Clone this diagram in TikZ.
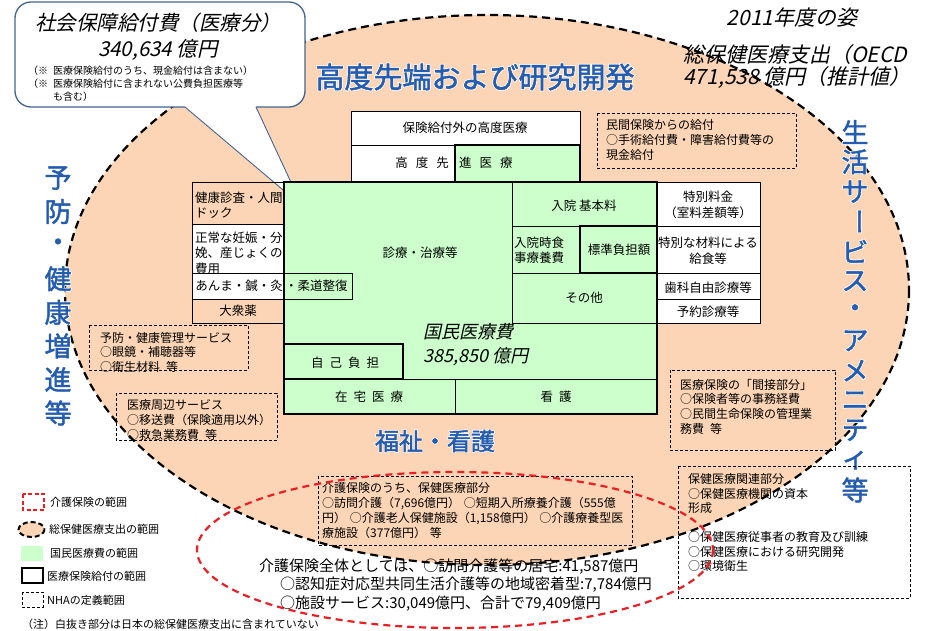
\documentclass[tikz,border=0pt]{standalone}
\usepackage{fontspec}
\setmainfont{Noto Sans CJK JP}
\newfontfamily\jpit[FakeSlant=0.22]{Noto Sans CJK JP}
\newfontfamily\jpbf[FakeBold=1.6]{Noto Sans CJK JP}
\newfontfamily\jpglow[FakeBold=7]{Noto Sans CJK JP}
\definecolor{peach}{RGB}{251,213,181}
\definecolor{lgreen}{RGB}{204,255,204}
\definecolor{ttlblue}{RGB}{36,92,176}
\definecolor{cborder}{RGB}{68,100,145}
\definecolor{kred}{RGB}{235,30,35}
\tikzset{
 thinbox/.style={draw=black,line width=0.9pt},
 thickbox/.style={draw=black,line width=2.6pt},
 nha/.style={draw=black,line width=0.8pt,dash pattern=on 3pt off 2pt},
 lbl/.style={inner sep=0pt,font=\fontsize{12.5}{15.5}\selectfont},
 dlbl/.style={inner sep=0pt,anchor=north west,align=left,font=\fontsize{12}{14.7}\selectfont},
 leg/.style={inner sep=0pt,anchor=west,font=\fontsize{11}{13}\selectfont},
 ttl/.style={inner sep=0pt,text=ttlblue,font=\jpbf\fontsize{29}{32}\selectfont},
 ttlglow/.style={inner sep=0pt,text=white,font=\jpglow\fontsize{29}{32}\selectfont},
 vt/.style={inner sep=0pt,text=ttlblue,font=\jpbf\fontsize{27}{30}\selectfont},
 vtglow/.style={inner sep=0pt,text=white,font=\jpglow\fontsize{27}{30}\selectfont},
 itl/.style={inner sep=0pt,font=\jpit\fontsize{20.5}{24}\selectfont},
 itr/.style={inner sep=0pt,font=\jpit\fontsize{21}{24}\selectfont},
 note/.style={inner sep=0pt,anchor=west,font=\fontsize{10}{12}\selectfont},
 kg/.style={inner sep=0pt,anchor=west,font=\fontsize{15}{17}\selectfont},
}
\begin{document}
\begin{tikzpicture}[x=1pt,y=-1pt]
\useasboundingbox (0,0) rectangle (932,631);
% total health expenditure
\draw[fill=peach,line width=2.2pt,dash pattern=on 8pt off 5pt] (487,290) ellipse [x radius=422, y radius=275];

% callout
\draw[fill=white,draw=cborder,line width=1.3pt,rounded corners=16pt] (15,2) rectangle (305,107);
\fill[white] (185,103) -- (256,103) -- (256,107) -- (302,206) -- (185,107) -- cycle;
\coordinate (tip) at (302,206);
\coordinate (tl) at (185,107);
\coordinate (tr) at (256,107);
\draw[cborder,line width=0.9pt] (tl) -- (tip) -- (tr);
\node[itl] (cttl) at (158,23) {社会保障給付費（医療分）};
\node[itl] (camt) at (158,50) {340,634 億円};
\node[note] (cn1a) at (28,71) {（※};
\node[note] (cn1) at (53,71) {医療保険給付のうち、現金給付は含まない）};
\node[note] (cn2a) at (28,84) {（※};
\node[note] (cn2) at (53,84) {医療保険給付に含まれない公費負担医療等};
\node[note] (cn3) at (53,97) {も含む）};

% top right
\node[itr] (yr) at (792,18) {2011年度の姿};
\node[itr,anchor=west] (oecd1) at (683,55) {総保健医療支出（OECD};
\node[itr,anchor=west] (oecd2) at (683,78) {471,538 億円（推計値）};

% blue titles (white halo below, blue text on top)
\node[ttlglow] (t1g) at (475,77) {高度先端および研究開発};
\node[ttl] (t1) at (475,77) {高度先端および研究開発};
\node[ttlglow,font=\jpglow\fontsize{24}{28}\selectfont] (t2g) at (435,441) {福祉・看護};
\node[ttl,font=\jpbf\fontsize{24}{28}\selectfont] (t2) at (435,441) {福祉・看護};
\foreach \c [count=\i from 0] in {予,防,・,健,康,増,進,等}{
  \node[vtglow] (LG\i) at (58,178+33.57*\i) {\c};
  \node[vt] (L\i) at (58,178+33.57*\i) {\c};}
\foreach \c/\r [count=\i from 0] in {生/0,活/0,サ/0,ー/-90,ビ/0,ス/0,・/0,ア/0,メ/0,ニ/0,テ/0,ィ/0,等/0}{
  \node[vtglow,rotate=\r] (RG\i) at (855,132+29.83*\i) {\c};
  \node[vt,rotate=\r] (R\i) at (855,132+29.83*\i) {\c};}

% fills
\fill[lgreen] (284,182) rectangle (657,414);
\fill[lgreen] (455,145) rectangle (580,182);
\fill[white] (351,111) rectangle (580,145);
\fill[white] (351,145) rectangle (455,182);
\fill[white] (192,224) rectangle (284,299);
\fill[white] (657,182) rectangle (760,323);

% thin boxes
\draw[thinbox] (351,111) rectangle (580,145);
\draw[thinbox] (351,145) rectangle (455,182);
\draw[thinbox] (192,182) rectangle (284,323);
\draw[thinbox] (192,224) -- (284,224) (192,273) -- (284,273) (192,299) -- (284,299);
\draw[thinbox] (284,273) rectangle (352,299);
\draw[thinbox] (657,182) rectangle (760,323);
\draw[thinbox] (657,226) -- (760,226) (657,273) -- (760,273) (657,299) -- (760,299);
\draw[thinbox] (512,182) -- (512,323) (512,226) -- (657,226) (512,273) -- (657,273) (512,323) -- (657,323);
\draw[thinbox] (284,379) -- (657,379) (455,379) -- (455,414);
% thick boxes
\draw[thickbox] (284,182) rectangle (657,414);
\draw[thickbox] (455,145) rectangle (580,182);
\draw[thickbox] (284,344) rectangle (403,379);
\draw[thickbox] (580,226) rectangle (657,273);

% box labels
\node[lbl] (kodo) at (465,128) {保険給付外の高度医療};
\node[lbl,anchor=east] (sen1) at (449,163) {高\hspace{8pt}度\hspace{8pt}先};
\node[lbl,anchor=west] (sen2) at (459,163) {進\hspace{8pt}医\hspace{8pt}療};
\node[lbl,anchor=north west,align=left] (kenshin) at (195,191.5) {健康診査・人間\\ドック};
\node[lbl,anchor=north west,align=left] (ninshin) at (195,231.5) {正常な妊娠・分\\娩、産じょくの\\費用};
\node[lbl,anchor=east] (anma) at (283,286) {あんま・鍼・灸};
\node[lbl,anchor=west] (judo) at (285,286) {・柔道整復};
\node[lbl] (taishu) at (238,311) {大衆薬};
\node[lbl] (shinryo) at (420,253) {診療・治療等};
\node[inner sep=0pt,anchor=west,font=\jpit\fontsize{18}{22}\selectfont] (kok1) at (423,332) {国民医療費};
\node[inner sep=0pt,anchor=west,font=\jpit\fontsize{18}{22}\selectfont] (kok2) at (423,357) {385,850 億円};
\node[lbl] (jiko) at (345,363) {自\hspace{6pt}己\hspace{6pt}負\hspace{6pt}担};
\node[lbl] (zaitaku) at (369,397) {在\hspace{6pt}宅\hspace{6pt}医\hspace{6pt}療};
\node[lbl] (kango) at (556,397) {看\hspace{6pt}護};
\node[lbl] (nyuin) at (584,206) {入院 基本料};
\node[lbl,anchor=north west,align=left] (shokuji) at (514,236.5) {入院時食\\事療養費};
\node[lbl] (hyojun) at (619,250) {標準負担額};
\node[lbl] (sonota) at (584,298) {その他};
\node[lbl,align=center] (tokubetsu) at (708,205) {特別料金\\（室料差額等）};
\node[lbl,align=center] (zairyo) at (708,251) {特別な材料による\\給食等};
\node[lbl] (shika) at (708,288) {歯科自由診療等};
\node[lbl] (yoyaku) at (708,312) {予約診療等};

% NHA dashed boxes
\draw[nha] (597,113) rectangle (796,168);
\node[dlbl] (minkan) at (606,119.7) {民間保険からの給付\\○手術給付費・障害給付費等の\\現金給付};
\draw[nha] (89,325) rectangle (248,370);
\node[dlbl] (yobo) at (100,331.7) {予防・健康管理サービス\\○眼鏡・補聴器等\\○衛生材料\hspace{0.5em}等};
\draw[nha] (116,393) rectangle (277,440);
\node[dlbl] (shuhen) at (127,399.7) {医療周辺サービス\\○移送費（保険適用以外）\\○救急業務費\hspace{0.5em}等};
\draw[nha] (670,370) rectangle (835,450);
\node[dlbl] (kansetsu) at (680,378.7) {医療保険の「間接部分」\\○保険者等の事務経費\\○民間生命保険の管理業\\務費\hspace{0.5em}等};
\draw[nha] (318,476) rectangle (632,545);
\node[dlbl] (kaigobu) at (322,482.7) {介護保険のうち、保健医療部分\\○訪問介護（7,696億円）\hspace{0.3em}○短期入所療養介護（555億\\円）\hspace{0.3em}○介護老人保健施設（1,158億円）\hspace{0.3em}○介護療養型医\\療施設（377億円）\hspace{0.3em}等};
\draw[nha] (678,466) rectangle (910,598);
\node[dlbl,font=\fontsize{12}{14.5}\selectfont] (kanren) at (688,473.7) {保健医療関連部分\\○保健医療機関の資本\\形成\\[14.5pt]○保健医療従事者の教育及び訓練\\○保健医療における研究開発\\○環境衛生};

% long-term care range
\draw[kred,line width=2.2pt,dash pattern=on 7pt off 5pt] (455,550) ellipse [x radius=258, y radius=78];
\node[kg] (kg1) at (259,567) {介護保険全体としては、○訪問介護等の居宅:41,587億円};
\node[kg] (kg2) at (280,585) {○認知症対応型共同生活介護等の地域密着型:7,784億円};
\node[kg] (kg3) at (280,604) {○施設サービス:30,049億円、合計で79,409億円};

% legend
\draw[kred,line width=1.3pt,dash pattern=on 4pt off 2.5pt] (23,494) rectangle (44,510);
\node[leg] (lg1) at (50,502) {介護保険の範囲};
\draw[fill=peach,line width=2pt,dash pattern=on 5pt off 3pt] (31.5,529.5) ellipse [x radius=13, y radius=7.5];
\node[leg] (lg2) at (49,529) {総保健医療支出の範囲};
\fill[lgreen] (21,546) rectangle (43,561);
\node[leg] (lg3) at (50,553) {国民医療費の範囲};
\draw[line width=2.5pt] (22,568) rectangle (43,583);
\node[leg] (lg4) at (47,576) {医療保険給付の範囲};
\draw[nha] (22,592) rectangle (43,607);
\node[leg] (lg5) at (47,600) {NHAの定義範囲};
\node[leg] (chu) at (22,624) {（注）白抜き部分は日本の総保健医療支出に含まれていない};
\end{tikzpicture}
\end{document}
